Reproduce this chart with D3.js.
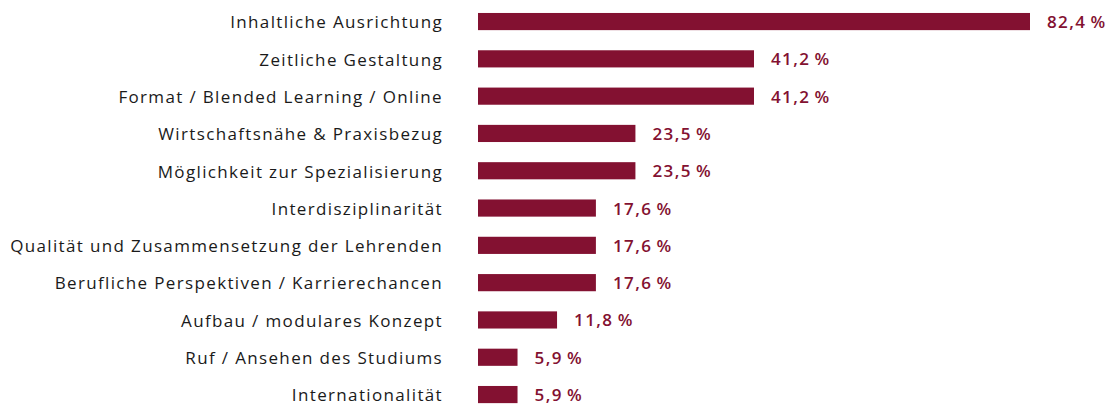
<!DOCTYPE html>
<html>
<head>
<meta charset="utf-8">
<script src="https://cdn.jsdelivr.net/npm/d3@7"></script>
<style>
  body { margin: 0; background: #fff; }
  svg { display: block; }
</style>
</head>
<body>
<script>
const categories = [
  'Inhaltliche Ausrichtung',
  'Zeitliche Gestaltung',
  'Format / Blended Learning / Online',
  'Wirtschaftsnähe & Praxisbezug',
  'Möglichkeit zur Spezialisierung',
  'Interdisziplinarität',
  'Qualität und Zusammensetzung der Lehrenden',
  'Berufliche Perspektiven / Karrierechancen',
  'Aufbau / modulares Konzept',
  'Ruf / Ansehen des Studiums',
  'Internationalität'
];
const values = [82.4, 41.2, 41.2, 23.5, 23.5, 17.6, 17.6, 17.6, 11.8, 5.9, 5.9];

const W = 1113, H = 406;
const barColor = '#831131';

const svg = d3.select('body').append('svg')
  .attr('width', W)
  .attr('height', H);

const x = d3.scaleLinear().domain([0, 82.4]).range([478, 1030]);
const y = d3.scaleBand()
  .domain(categories)
  .range([2.9, 413.2])
  .paddingInner(0.54)
  .paddingOuter(0.27);

const fmt = v => v.toFixed(1).replace('.', ',') + '\u2009%';

svg.selectAll('rect.bar')
  .data(values)
  .enter()
  .append('rect')
    .attr('class', 'bar')
    .attr('x', x(0))
    .attr('y', (d, i) => y(categories[i]))
    .attr('width', d => x(d) - x(0))
    .attr('height', y.bandwidth())
    .attr('fill', barColor);

svg.selectAll('text.cat')
  .data(categories)
  .enter()
  .append('text')
    .attr('class', 'cat')
    .text(d => d)
    .attr('x', 443)
    .attr('y', d => y(d) + y.bandwidth() / 2)
    .attr('dy', '0.4em')
    .attr('text-anchor', 'end')
    .style('font-family', '"Open Sans", sans-serif')
    .style('font-size', '17px')
    .style('letter-spacing', '1.35px')
    .style('fill', '#1a1a1a');

svg.selectAll('text.val')
  .data(values)
  .enter()
  .append('text')
    .attr('class', 'val')
    .text(d => fmt(d))
    .attr('x', d => x(d) + 17)
    .attr('y', (d, i) => y(categories[i]) + y.bandwidth() / 2)
    .attr('dy', '0.38em')
    .style('font-family', '"Open Sans", sans-serif')
    .style('font-weight', '600')
    .style('font-size', '17px')
    .style('letter-spacing', '1.4px')
    .style('fill', barColor);
</script>
</body>
</html>
